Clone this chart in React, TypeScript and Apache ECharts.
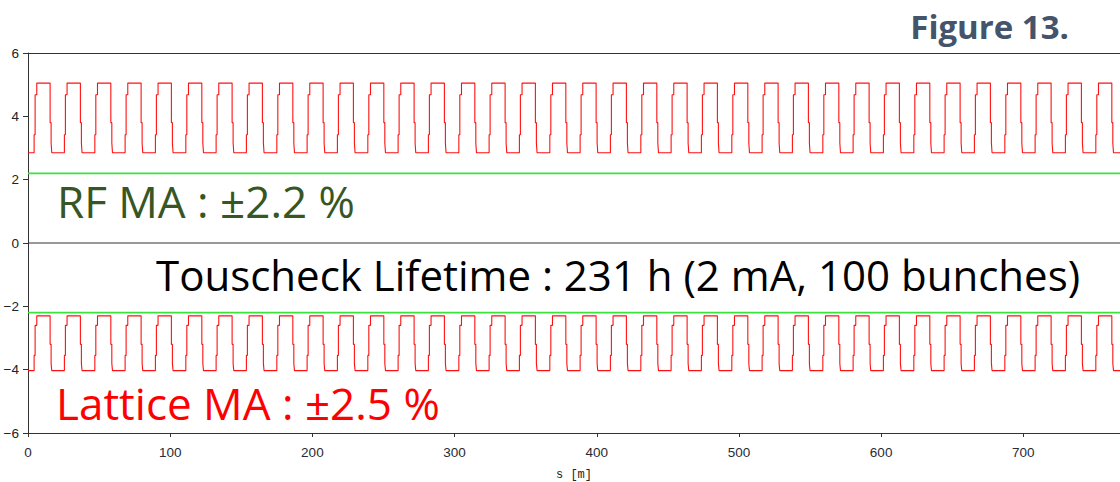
import React, { useEffect, useRef } from "react";
import * as echarts from "echarts";

// ---- data ----
const S_MIN = 0;
const S_MAX = 768; // ring length shown, m
const X_TICK_STEP = 100;
const Y_MIN = -6;
const Y_MAX = 6;
const Y_TICK_STEP = 2;

// positions (m) where each lattice cell's acceptance starts to rise
const cellRiseStarts = [
  4.3, 25.6, 47.0, 68.3, 89.6, 111.0, 132.3, 153.6, 175.0, 196.3, 217.6, 239.0,
  260.3, 281.6, 303.0, 324.3, 345.6, 367.0, 388.3, 409.6, 431.0, 452.3, 473.6, 495.0,
  516.3, 537.6, 559.0, 580.3, 601.6, 623.0, 644.3, 665.6, 687.0, 708.3, 729.6, 751.0,
];
// step offsets inside one cell (m, from the rise start)
const stepOffsets = [0, 0.7, 1.87, 11.25, 11.95, 12.42];
// positive lattice momentum acceptance (%) after each step
const upperBase = 2.85;
const upperLevels = [3.42, 4.68, 5.05, 3.8, 3.16, 2.85];
// negative lattice momentum acceptance (%) after each step
const lowerBase = -4.03;
const lowerLevels = [-3.55, -2.6, -2.3, -3.2, -3.8, -4.03];
// RF momentum acceptance (%)
const rfAcceptance = 2.2;

const figureLabel = "Figure 13.";
const rfText = "RF MA : \u00b12.2 %";
const touschekText = "Touscheck Lifetime : 231 h (2 mA, 100 bunches)";
const latticeText = "Lattice MA : \u00b12.5 %";
const xName = "s [m]";

function buildWave(base: number, levels: number[]): number[][] {
  const pts: number[][] = [[S_MIN, base]];
  for (const c of cellRiseStarts) {
    for (let i = 0; i < stepOffsets.length; i++) {
      pts.push([c + stepOffsets[i], levels[i]]);
    }
  }
  pts.push([S_MAX, base]);
  return pts;
}

const fmtMinus = (v: number) => (v < 0 ? "\u2212" + Math.abs(v) : String(v));

export default function App() {
  const ref = useRef<HTMLDivElement>(null);
  useEffect(() => {
    if (!ref.current) return;
    const chart = echarts.init(ref.current, undefined, { renderer: "svg" });
    const axisColor = "#333";
    const labelFont = "Liberation Sans";
    const annoFont = "'Open Sans'";
    chart.setOption({
      animation: false,
      backgroundColor: "#ffffff",
      grid: {
        left: 28,
        right: 0,
        top: 53,
        bottom: 49,
        containLabel: false,
        outerBoundsMode: "none",
      },
      xAxis: [
        {
          type: "value",
          min: S_MIN,
          max: S_MAX,
          interval: X_TICK_STEP,
          position: "bottom",
          name: xName,
          nameLocation: "middle",
          nameGap: 36,
          nameTextStyle: { fontFamily: "Liberation Mono", fontSize: 12, color: "#222" },
          axisLine: { show: true, onZero: false, lineStyle: { color: axisColor, width: 1 } },
          axisTick: { show: true, length: 4, lineStyle: { color: axisColor } },
          axisLabel: {
            fontFamily: labelFont,
            fontSize: 13.5,
            color: "#2a2a35",
            margin: 12,
            showMaxLabel: false,
            formatter: (v: number) => (v % X_TICK_STEP === 0 ? String(v) : ""),
          },
          splitLine: { show: false },
        },
        {
          type: "value",
          min: S_MIN,
          max: S_MAX,
          position: "top",
          axisLine: { show: true, onZero: false, lineStyle: { color: axisColor, width: 1 } },
          axisTick: { show: false },
          axisLabel: { show: false },
          splitLine: { show: false },
        },
      ],
      yAxis: {
        type: "value",
        min: Y_MIN,
        max: Y_MAX,
        interval: Y_TICK_STEP,
        axisLine: { show: true, onZero: false, lineStyle: { color: axisColor, width: 1 } },
        axisTick: { show: true, length: 5, lineStyle: { color: axisColor } },
        axisLabel: {
          fontFamily: labelFont,
          fontSize: 13.5,
          color: "#222",
          margin: 9,
          formatter: fmtMinus,
        },
        splitLine: { show: false },
      },
      series: [
        {
          type: "line",
          name: "zero",
          silent: true,
          symbol: "none",
          data: [
            [S_MIN, 0],
            [S_MAX, 0],
          ],
          lineStyle: { color: axisColor, width: 1 },
        },
        {
          type: "line",
          name: "RF MA +",
          silent: true,
          symbol: "none",
          data: [
            [S_MIN, rfAcceptance],
            [S_MAX, rfAcceptance],
          ],
          lineStyle: { color: "#3ce23c", width: 1.6 },
        },
        {
          type: "line",
          name: "RF MA -",
          silent: true,
          symbol: "none",
          data: [
            [S_MIN, -rfAcceptance],
            [S_MAX, -rfAcceptance],
          ],
          lineStyle: { color: "#3ce23c", width: 1.6 },
        },
        {
          type: "line",
          name: "Lattice MA +",
          silent: true,
          symbol: "none",
          step: "end",
          data: buildWave(upperBase, upperLevels),
          lineStyle: { color: "#ff1010", width: 1.1 },
        },
        {
          type: "line",
          name: "Lattice MA -",
          silent: true,
          symbol: "none",
          step: "end",
          data: buildWave(lowerBase, lowerLevels),
          lineStyle: { color: "#ff1010", width: 1.1 },
        },
      ],
      graphic: [
        {
          type: "text",
          x: 1069,
          y: 26,
          style: {
            text: figureLabel,
            fill: "#44546a",
            font: "bold 33px " + annoFont,
            align: "right",
            verticalAlign: "middle",
          },
        },
        {
          type: "text",
          x: 57,
          y: 201,
          style: {
            text: rfText,
            fill: "#375623",
            font: "44px " + annoFont,
            align: "left",
            verticalAlign: "middle",
          },
        },
        {
          type: "text",
          x: 156,
          y: 274,
          style: {
            text: touschekText,
            fill: "#000000",
            font: "42px " + annoFont,
            align: "left",
            verticalAlign: "middle",
          },
        },
        {
          type: "text",
          x: 56,
          y: 403,
          style: {
            text: latticeText,
            fill: "#ff0000",
            font: "44px " + annoFont,
            align: "left",
            verticalAlign: "middle",
          },
        },
      ],
    });
    return () => chart.dispose();
  }, []);
  return (
    <div
      ref={ref}
      style={{ position: "fixed", left: 0, top: 0, width: 1120, height: 482, background: "#fff" }}
    />
  );
}
